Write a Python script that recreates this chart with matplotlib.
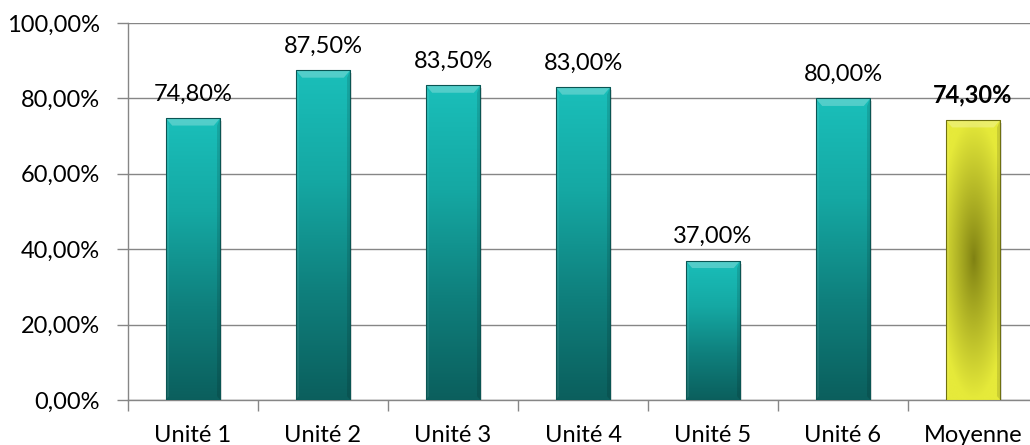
import numpy as np
import matplotlib
matplotlib.use("Agg")
import matplotlib.pyplot as plt
from matplotlib.colors import LinearSegmentedColormap
from matplotlib.ticker import FuncFormatter

categories = ["Unité 1", "Unité 2", "Unité 3", "Unité 4", "Unité 5", "Unité 6", "Moyenne"]
values = [74.8, 87.5, 83.5, 83.0, 37.0, 80.0, 74.3]
labels = ["74,80%", "87,50%", "83,50%", "83,00%", "37,00%", "80,00%", "74,30%"]

plt.rcParams['font.family'] = ['Lato', 'DejaVu Sans']
FS = 17

fig = plt.figure(figsize=(10.3, 4.45), dpi=100)
ax = fig.add_axes([128/1030, 45/445, 910/1030, 377/445])

x = np.arange(len(categories))
bars = ax.bar(x, values, width=0.42, color='none', edgecolor='none', zorder=3)

teal = LinearSegmentedColormap.from_list('teal', ['#0b5f5d', '#0f807d', '#15a8a3', '#1abfba'])
yel_edge = np.array([0xe6, 0xea, 0x3a]) / 255
yel_mid = np.array([0x7e, 0x80, 0x12]) / 255

ax.set_xlim(-0.5, len(categories) - 0.5)
ax.set_ylim(0, 100)

for i, b in enumerate(bars):
    x0, w, h = b.get_x(), b.get_width(), b.get_height()
    # soft shadow
    ax.add_patch(plt.Rectangle((x0 + 0.012, -0.8), w, h, color='#000000', alpha=0.12, zorder=2, lw=0))
    if i < len(categories) - 1:
        grad = np.linspace(0, 1, 256).reshape(-1, 1)
        im = ax.imshow(grad, extent=(x0, x0 + w, 0, h), origin='lower', cmap=teal,
                       aspect='auto', zorder=3, interpolation='bicubic')
    else:
        yy, xx = np.mgrid[0:200, 0:60]
        dx = (xx - 30) / 30.0
        dy = (yy - 100) / 100.0
        r = np.clip(np.sqrt(dx**2 * 0.6 + dy**2 * 1.0), 0, 1)
        t = r ** 0.9
        img = yel_mid[None, None, :] * (1 - t[..., None]) + yel_edge[None, None, :] * t[..., None]
        im = ax.imshow(img, extent=(x0, x0 + w, 0, h), origin='lower',
                       aspect='auto', zorder=3, interpolation='bicubic')
    im.set_clip_path(b)
    # bevel highlight at top
    bev = 2.0
    bw = 0.05
    tri = plt.Polygon([(x0, h), (x0 + w, h), (x0 + w - bw, h - bev), (x0 + bw, h - bev)],
                      closed=True, color='white', alpha=0.25, lw=0, zorder=4)
    ax.add_patch(tri)
    side = plt.Polygon([(x0, h), (x0 + bw * 0.5, h - bev), (x0 + bw * 0.5, 1.0), (x0, 0)],
                       closed=True, color='white', alpha=0.08, lw=0, zorder=4)
    ax.add_patch(side)
    side2 = plt.Polygon([(x0 + w, h), (x0 + w - bw * 0.5, h - bev), (x0 + w - bw * 0.5, 1.0), (x0 + w, 0)],
                        closed=True, color='black', alpha=0.12, lw=0, zorder=4)
    ax.add_patch(side2)
    edge = '#0a5553' if i < len(categories) - 1 else '#6f7010'
    ax.add_patch(plt.Rectangle((x0, 0), w, h, fill=False, ec=edge, lw=0.8, zorder=5))
    bold = (i == len(categories) - 1)
    ax.text(b.get_x() + w / 2, h + 4.6, labels[i], ha='center', va='baseline',
            fontsize=FS, fontweight='bold' if bold else 'normal', color='black', zorder=6)

ax.set_yticks(np.arange(0, 101, 20))
ax.yaxis.set_major_formatter(FuncFormatter(lambda v, p: f"{v:.2f}".replace('.', ',') + "%"))
ax.set_xticks(x)
ax.set_xticklabels(categories)
ax.set_xticks(np.arange(-0.5, len(categories), 1.0), minor=True)
ax.tick_params(axis='x', which='major', length=0, pad=18, labelsize=FS)
ax.tick_params(axis='x', which='minor', length=8, width=1, color='#868686')
ax.tick_params(axis='y', which='major', length=8, width=1, color='#868686', labelsize=FS, pad=12)
ax.grid(axis='y', color='#868686', lw=1, zorder=1)
ax.set_axisbelow(True)
for s in ['top', 'right']:
    ax.spines[s].set_visible(False)
for s in ['left', 'bottom']:
    ax.spines[s].set_color('#868686')
    ax.spines[s].set_linewidth(1)

fig.savefig("out.png", dpi=100)
